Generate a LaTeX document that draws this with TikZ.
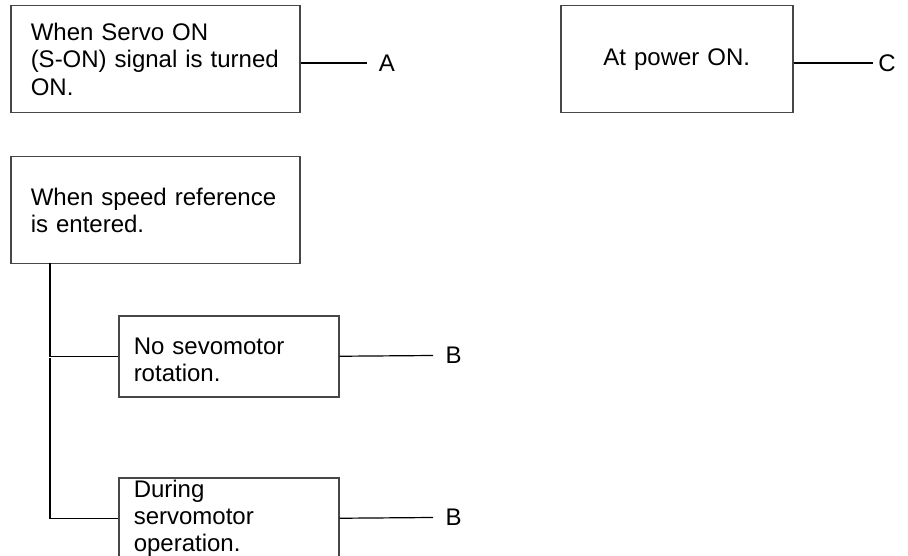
\documentclass[tikz,border=0pt]{standalone}
\usepackage{fontspec}
\setmainfont{Liberation Sans}
\usetikzlibrary{calc}
\begin{document}
\begin{tikzpicture}[x=1pt,y=-1pt,
  box/.style={draw=black!72, line width=1.5pt, rectangle, anchor=north west,
    inner ysep=0pt, font=\fontsize{24}{27.2}\selectfont},
  leftbox/.style={box, align=left},
  conn/.style={draw=black, line width=1.2pt},
  lab/.style={inner sep=0pt, font=\fontsize{24}{27.2}\selectfont}]
\useasboundingbox (0,0) rectangle (908,556);
\clip (0,0) rectangle (908,556);
% boxes
\node[leftbox, inner xsep=20pt, text width=249pt, minimum height=107pt] (ba) at (10,5)
  {When Servo ON\\(S-ON) signal is turned\\ON.};
\node[box, align=center, inner xsep=16pt, text width=200pt, minimum height=107pt] (bc) at (560,5)
  {At power ON.};
\node[leftbox, inner xsep=20pt, text width=249pt, minimum height=107pt] (bs) at (10,156)
  {When speed reference\\is entered.};
\node[leftbox, inner xsep=15pt, text width=190pt, minimum height=81pt] (b1) at (118,315)
  {\rule{0pt}{23pt}No sevomotor\\rotation.};
\node[leftbox, inner xsep=15pt, text width=190pt, minimum height=81pt] (b2) at (118,477)
  {During\\servomotor\\operation.};
% labels
\node[lab] (la) at (387,63) {A};
\node[lab] (lc) at (887,63) {C};
\node[lab] (lb1) at (453.5,355.5) {B};
\node[lab] (lb2) at (453.5,517.5) {B};
\coordinate (ea) at (367,63);
\coordinate (ec) at (873,63);
\coordinate (eb1) at (433,355.5);
\coordinate (eb2) at (433,517.5);
% connectors
\draw[conn] (ba.east |- ea) -- (ea);
\draw[conn] (bc.east |- ec) -- (ec);
\draw[conn] (b1.east) -- (eb1);
\draw[conn] (b2.east) -- (eb2);
\coordinate (vt) at (50,263);
\coordinate (vm) at (50,357.5);
\draw[conn] (vt) |- (b1.west);
\draw[conn] (vm) |- (b2.west);
\end{tikzpicture}
\end{document}
